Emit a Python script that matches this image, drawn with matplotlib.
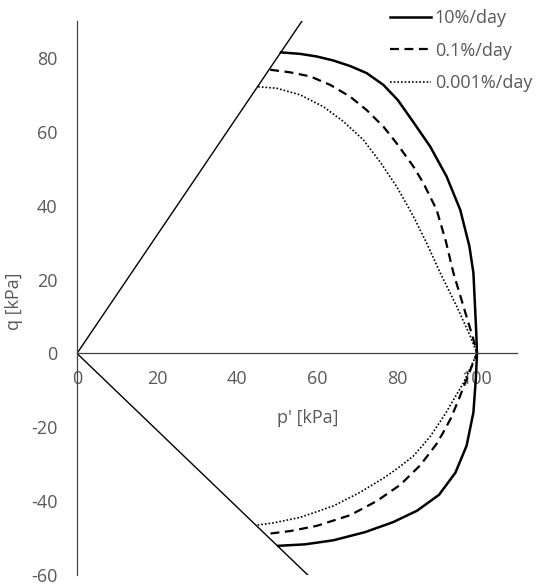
"""
Undrained effective stress paths at three strain rates, p'-q plane,
with the critical state lines in compression and extension.
"""

import numpy as np
import matplotlib
matplotlib.use("Agg")
import matplotlib.pyplot as plt

# critical state line slopes (q/p')
csl_comp = 1.6
csl_ext = -1.04

# stress paths: compression branch -> (100, 0) -> extension branch
p_10 = [51.0, 55.8, 59.9, 64.1, 68.3, 72.4, 76.6, 80.2, 84.1, 88.3, 92.4, 95.8,
        98.1, 99.1, 99.5, 99.8, 100.0,
        99.7, 99.1, 97.4, 94.6, 90.5, 85.0, 79.0, 72.0, 64.1, 57.0, 50.3]
q_10 = [81.5, 81.1, 80.4, 79.3, 77.8, 75.9, 72.7, 68.6, 62.6, 56.0, 47.9, 38.9,
        29.0, 21.8, 12.8, 6.0, 0.0,
        -7.0, -16.0, -25.0, -32.3, -38.3, -42.6, -45.7, -48.4, -50.6, -51.7, -52.1]

p_01 = [48.3, 53.3, 58.3, 63.3, 68.3, 72.4, 76.6, 79.9, 84.1, 86.6, 89.9, 92.2,
        94.1, 96.6, 99.1, 100.0,
        97.4, 95.6, 93.5, 91.5, 89.9, 85.8, 80.8, 74.9, 68.3, 59.9, 53.3, 47.4]
q_01 = [76.8, 76.1, 75.0, 72.7, 69.5, 65.9, 61.4, 56.9, 50.6, 46.1, 38.9, 30.4,
        21.8, 12.8, 3.8, 0.0,
        -7.0, -12.0, -17.5, -21.5, -24.5, -30.3, -35.6, -40.0, -43.8, -46.7, -48.1, -48.9]

p_0001 = [45.3, 49.9, 55.8, 61.6, 66.6, 71.6, 75.8, 79.9, 84.1, 87.4, 90.8,
          94.9, 98.3, 100.0,
          96.6, 92.0, 88.3, 84.1, 80.3, 76.6, 70.8, 64.1, 55.8, 49.1, 44.9]
q_0001 = [72.2, 71.8, 70.0, 66.8, 62.8, 57.8, 51.8, 45.2, 37.1, 29.9, 21.8,
          12.8, 4.7, 0.0,
          -8.0, -16.5, -22.5, -27.8, -31.0, -33.8, -37.6, -41.3, -44.4, -45.9, -46.5]

labels = ["10%/day", "0.1%/day", "0.001%/day"]

grey = "#595959"
fs = 13
plt.rcParams["font.family"] = ["Open Sans", "DejaVu Sans"]
plt.rcParams["font.size"] = fs
plt.rcParams["axes.unicode_minus"] = False

fig = plt.figure(figsize=(5.42, 5.84), dpi=100)
ax = fig.add_axes([77 / 542, 1 - 575 / 584, 440 / 542, 554 / 584])

p_csl = np.array([0, 70])
ax.plot(p_csl, csl_comp * p_csl, color="black", lw=1.0)
ax.plot(p_csl, csl_ext * p_csl, color="black", lw=1.0)

ax.plot(p_10, q_10, color="black", lw=1.8, ls="-", label=labels[0])
ax.plot(p_01, q_01, color="black", lw=1.6, ls=(0, (4, 2.5)), label=labels[1])
ax.plot(p_0001, q_0001, color="black", lw=1.2, ls=(0, (1, 1.2)), label=labels[2])

ax.set_xlim(0, 110)
ax.set_ylim(-60, 90)
ax.set_xticks([0, 20, 40, 60, 80, 100])
ax.set_yticks([-60, -40, -20, 0, 20, 40, 60, 80])

ax.spines["bottom"].set_position(("data", 0))
ax.spines["top"].set_visible(False)
ax.spines["right"].set_visible(False)
for s in ("bottom", "left"):
    ax.spines[s].set_color("#404040")
    ax.spines[s].set_linewidth(0.9)

ax.tick_params(axis="both", length=0, colors=grey, labelsize=fs)
ax.tick_params(axis="x", pad=12)
ax.tick_params(axis="y", pad=14)

ax.set_xlabel("p' [kPa]", color=grey, fontsize=fs)
ax.xaxis.set_label_coords(0.525, 0.299)
ax.set_ylabel("q [kPa]", color=grey, fontsize=fs)
ax.yaxis.set_label_coords(-0.123, 0.495)

leg = fig.legend(loc="upper left", bbox_to_anchor=(374 / 542, 1 + 7 / 584),
                 frameon=False, handlelength=2.27, handletextpad=0.2,
                 labelspacing=0.8, fontsize=fs)
for t in leg.get_texts():
    t.set_color(grey)

fig.savefig("out.png", dpi=100)
